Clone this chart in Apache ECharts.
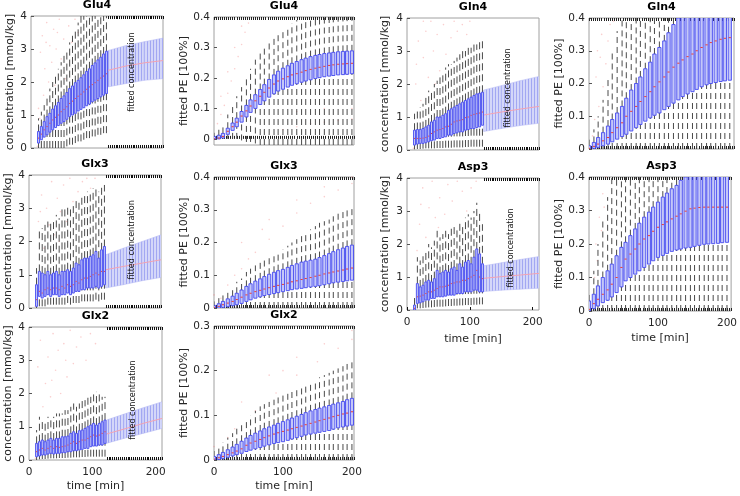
<!DOCTYPE html>
<html><head><meta charset="utf-8">
<script src="https://cdn.jsdelivr.net/npm/echarts@6/dist/echarts.min.js"></script>
<style>html,body{margin:0;padding:0;background:#fff}#c{width:740px;height:496px}</style>
</head><body><div id="c"></div>
<script>
// ---------- time points ----------
const concT = [12,16.5,21,25.5,30,34.5,39,43.5,48,52.5,57,61.5,66,70.5,75,79.5,84,88.5,93,97.5,102,106.5,111,115.5,120];
const peT = [0,7,13,20,27,33,40,47,53,60,67,73,80,87,93,100,107,113,120,127,133,140,147,153,160,167,173,180,187,193,200];
const fitT = [122,150,180,210];
const fitTicks = [123,126,129,132,135,138,141,144,147,150,153,156,159,162,165,168,171,174,177,180,183,186,189,192,195,198,201,204,207,210];
const timeTicks = [0,100,200];
const concTicks = [0,1,2,3,4];
const peTicks4 = [0,0.1,0.2,0.3,0.4];
const peTicks3 = [0,0.1,0.2,0.3];

// ---------- Glu4 concentration ----------
const glu4ConcLo  = [0,0,0,0,0,0,0,0,0,0,0.05,0.1,0.1,0.15,0.2,0.2,0.25,0.3,0.3,0.35,0.35,0.4,0.4,0.45,0.45];
const glu4ConcQ1  = [0.15,0.25,0.33,0.4,0.48,0.55,0.62,0.68,0.75,0.8,0.87,0.95,1.0,1.05,1.12,1.17,1.22,1.28,1.33,1.4,1.45,1.5,1.55,1.6,1.65];
const glu4ConcMed = [0.3,0.42,0.55,0.65,0.75,0.85,0.93,1.0,1.1,1.17,1.25,1.35,1.42,1.5,1.57,1.63,1.7,1.78,1.85,1.92,1.98,2.05,2.12,2.18,2.25];
const glu4ConcQ3  = [0.5,0.65,0.8,0.95,1.05,1.18,1.28,1.38,1.5,1.58,1.68,1.8,1.88,1.98,2.05,2.13,2.22,2.32,2.4,2.5,2.58,2.67,2.75,2.85,2.93];
const glu4ConcHi  = [0.9,1.1,1.3,1.6,1.8,2.0,2.2,2.4,2.6,2.8,3.0,3.2,3.4,3.6,3.8,4.0,4.2,4.4,4.5,4.6,4.7,4.8,4.9,5.0,5.0];
const glu4FitLo  = [1.85,1.95,2.05,2.1];
const glu4FitMed = [2.35,2.48,2.58,2.65];
const glu4FitHi  = [2.95,3.1,3.22,3.33];
const glu4ConcOut = [[15,2.9],[18,3.4],[20,1.6],[22,2.4],[25,3.8],[28,2.0],[30,3.1],[33,2.6],[36,3.6],[38,1.9],[40,3.0],[45,3.9],[48,2.7],[52,3.3],[55,2.1],[60,3.7],[65,3.2],[70,3.9],[75,3.5],[12,1.2],[14,0.9],[10,0.05],[24,3.2],[42,3.5]];

// ---------- Glu4 PE ----------
const glu4PeLo  = [0,0,0,0,0,0,-0.005,-0.01,-0.01,-0.015,-0.02,-0.02,-0.02,-0.02,-0.02,-0.02,-0.02,-0.02,-0.02,-0.02,-0.02,-0.02,-0.02,-0.02,-0.02,-0.02,-0.02,-0.02,-0.02,-0.02,-0.02];
const glu4PeQ1  = [0,0,0.003,0.015,0.028,0.04,0.055,0.072,0.087,0.1,0.113,0.125,0.137,0.148,0.157,0.163,0.17,0.176,0.181,0.186,0.19,0.194,0.198,0.201,0.204,0.206,0.208,0.21,0.211,0.212,0.214];
const glu4PeMed = [0,0.003,0.008,0.025,0.04,0.055,0.075,0.092,0.108,0.125,0.14,0.153,0.167,0.18,0.19,0.197,0.204,0.21,0.214,0.219,0.224,0.228,0.232,0.235,0.238,0.241,0.243,0.245,0.246,0.247,0.248];
const glu4PeQ3  = [0.008,0.012,0.018,0.035,0.052,0.068,0.09,0.11,0.128,0.145,0.162,0.178,0.195,0.21,0.222,0.232,0.24,0.248,0.254,0.26,0.265,0.27,0.274,0.277,0.28,0.282,0.284,0.286,0.287,0.288,0.289];
const glu4PeHi  = [0.02,0.03,0.05,0.08,0.11,0.14,0.17,0.2,0.23,0.26,0.28,0.3,0.32,0.34,0.35,0.36,0.37,0.38,0.39,0.4,0.4,0.41,0.41,0.42,0.42,0.42,0.42,0.42,0.42,0.42,0.42];
const glu4PeOut = [[5,0.05],[10,0.08],[15,0.11],[20,0.15],[25,0.19],[30,0.23],[35,0.27],[40,0.31],[45,0.35],[50,0.38],[10,0.14],[20,0.22],[30,0.3],[40,0.37],[100,0.03],[120,0.04],[140,0.05],[160,0.055],[180,0.06],[200,0.065],[120,0.09],[160,0.1],[200,0.1]];

// ---------- Gln4 concentration ----------
const gln4ConcLo  = [0.02,0.03,0.03,0.04,0.05,0.05,0.05,0.05,0.06,0.06,0.06,0.07,0.07,0.07,0.08,0.08,0.08,0.08,0.09,0.09,0.1,0.1,0.1,0.1,0.1];
const gln4ConcQ1  = [0.15,0.18,0.2,0.2,0.22,0.25,0.28,0.3,0.35,0.35,0.38,0.4,0.45,0.45,0.5,0.52,0.55,0.55,0.6,0.62,0.65,0.65,0.68,0.7,0.75];
const gln4ConcMed = [0.35,0.35,0.35,0.36,0.38,0.42,0.5,0.55,0.6,0.62,0.65,0.7,0.72,0.78,0.85,0.88,0.9,0.92,0.98,1.0,1.05,1.08,1.1,1.12,1.15];
const gln4ConcQ3  = [0.6,0.62,0.62,0.65,0.7,0.75,0.85,0.9,1.0,1.0,1.05,1.1,1.2,1.25,1.3,1.35,1.4,1.45,1.5,1.55,1.6,1.65,1.7,1.72,1.75];
const gln4ConcHi  = [1.1,1.2,1.3,1.4,1.6,1.8,1.8,2.0,2.1,2.2,2.3,2.5,2.6,2.6,2.7,2.8,2.9,3.0,3.0,3.1,3.1,3.2,3.2,3.3,3.3];
const gln4FitLo  = [0.56,0.65,0.74,0.81];
const gln4FitMed = [1.06,1.15,1.24,1.32];
const gln4FitHi  = [1.82,1.95,2.1,2.23];
const gln4ConcOut = [[14,2.0],[18,3.3],[22,1.5],[26,2.8],[30,3.6],[34,2.2],[38,3.9],[42,3.0],[48,3.5],[52,2.4],[58,3.8],[62,2.9],[70,3.4],[75,3.9],[80,3.6],[88,3.8],[95,3.5],[100,3.9],[15,2.6],[10,0.05],[26,3.9],[45,2.0]];

// ---------- Gln4 PE ----------
const gln4PeLo  = [0,0,0,0,0,0,0,0,0,0,0,0,0,0,0,0,0,0,0,0,0,0,0,0,0,0,0,0,0,0,0];
const gln4PeQ1  = [0,0.002,0.005,0.01,0.015,0.022,0.03,0.038,0.045,0.055,0.065,0.075,0.085,0.095,0.103,0.11,0.12,0.13,0.14,0.15,0.16,0.168,0.175,0.182,0.19,0.196,0.2,0.203,0.206,0.208,0.21];
const gln4PeMed = [0.002,0.008,0.015,0.025,0.035,0.05,0.065,0.08,0.1,0.115,0.13,0.145,0.16,0.175,0.19,0.205,0.22,0.235,0.25,0.262,0.272,0.282,0.29,0.3,0.31,0.318,0.325,0.33,0.335,0.338,0.34];
const gln4PeQ3  = [0.01,0.02,0.035,0.05,0.07,0.09,0.11,0.13,0.155,0.18,0.2,0.22,0.245,0.265,0.29,0.31,0.33,0.355,0.38,0.4,0.42,0.43,0.44,0.45,0.46,0.46,0.47,0.47,0.47,0.47,0.47];
const gln4PeHi  = [0.03,0.06,0.1,0.15,0.22,0.3,0.36,0.42,0.46,0.5,0.5,0.5,0.5,0.5,0.5,0.5,0.5,0.5,0.5,0.5,0.5,0.5,0.5,0.5,0.5,0.5,0.5,0.5,0.5,0.5,0.5];
const gln4PeOut = [[5,0.04],[8,0.09],[12,0.3],[14,0.13],[18,0.35],[20,0.19],[24,0.26],[27,0.33],[30,0.38],[10,0.22],[16,0.28],[35,0.39]];

// ---------- Glx3 concentration ----------
const glx3ConcLo  = [0,0.05,0.05,0.05,0.1,0.1,0.1,0.1,0.1,0.1,0.1,0.15,0.1,0.15,0.15,0.15,0.2,0.2,0.2,0.2,0.2,0.25,0.2,0.25,0.25];
const glx3ConcQ1  = [0.05,0.35,0.3,0.35,0.4,0.35,0.4,0.4,0.35,0.4,0.4,0.45,0.4,0.45,0.5,0.5,0.55,0.55,0.6,0.6,0.6,0.65,0.6,0.65,0.7];
const glx3ConcMed = [0.25,0.5,0.45,0.55,0.6,0.55,0.6,0.6,0.55,0.65,0.6,0.7,0.65,0.7,0.8,0.75,0.85,0.9,0.9,0.95,1.0,1.05,1.0,1.1,1.1];
const glx3ConcQ3  = [0.7,1.1,1.05,1.0,1.1,1.0,1.05,1.1,1.0,1.1,1.1,1.15,1.1,1.2,1.35,1.3,1.45,1.5,1.5,1.55,1.6,1.7,1.5,1.75,1.85];
const glx3ConcHi  = [1.2,2.3,2.4,2.5,2.6,2.6,2.7,2.8,2.7,3.0,3.0,3.1,3.0,3.1,3.3,3.2,3.4,3.4,3.5,3.5,3.6,3.6,3.5,3.7,3.7];
const glx3FitLo  = [0.6,0.7,0.82,0.92];
const glx3FitMed = [1.15,1.25,1.35,1.45];
const glx3FitHi  = [1.6,1.8,2.0,2.2];
const glx3ConcOut = [[15,2.6],[20,3.4],[24,1.8],[28,3.0],[32,2.5],[36,3.8],[40,2.2],[45,3.3],[50,2.9],[55,3.7],[60,2.6],[65,3.9],[70,3.2],[78,3.5],[85,3.8],[92,3.9],[98,3.6],[105,3.9],[10,0.05],[18,2.9],[48,2.0]];

// ---------- Glx3 PE ----------
const glx3PeLo  = [0,0,0,0,0,0,0,0,0,0,0,0,0,0,0,0,0,0,0,0,0,0,0,0,0,0,0,0,0,0,0];
const glx3PeQ1  = [0,0,0.002,0.004,0.007,0.01,0.014,0.02,0.025,0.03,0.034,0.038,0.041,0.044,0.047,0.05,0.053,0.056,0.058,0.06,0.062,0.064,0.066,0.068,0.071,0.074,0.077,0.079,0.081,0.083,0.085];
const glx3PeMed = [0.002,0.005,0.01,0.015,0.02,0.026,0.033,0.04,0.045,0.05,0.054,0.058,0.062,0.066,0.069,0.072,0.076,0.08,0.083,0.087,0.09,0.093,0.097,0.1,0.104,0.107,0.11,0.113,0.116,0.119,0.122];
const glx3PeQ3  = [0.008,0.013,0.02,0.028,0.036,0.045,0.055,0.066,0.074,0.082,0.089,0.096,0.103,0.109,0.114,0.118,0.124,0.13,0.135,0.14,0.143,0.146,0.149,0.154,0.16,0.166,0.172,0.178,0.183,0.188,0.192];
const glx3PeHi  = [0.02,0.03,0.04,0.05,0.065,0.08,0.09,0.11,0.12,0.13,0.14,0.15,0.16,0.17,0.175,0.18,0.19,0.2,0.21,0.22,0.23,0.24,0.25,0.26,0.265,0.27,0.28,0.29,0.3,0.305,0.31];
const glx3PeOut = [[0,0.04],[20,0.07],[40,0.12],[60,0.17],[80,0.21],[100,0.25],[120,0.29],[140,0.32],[160,0.34],[180,0.36],[200,0.38],[40,0.2],[80,0.27],[120,0.33],[160,0.37],[200,0.4],[10,0.03],[30,0.1],[50,0.15],[70,0.24]];

// ---------- Asp3 concentration ----------
const asp3ConcLo  = [0,0.05,0.05,0.06,0.07,0.08,0.08,0.09,0.1,0.1,0.1,0.11,0.12,0.12,0.13,0.13,0.14,0.14,0.15,0.15,0.15,0.16,0.16,0.17,0.17];
const asp3ConcQ1  = [0,0.2,0.22,0.25,0.3,0.3,0.35,0.35,0.4,0.4,0.4,0.42,0.45,0.45,0.45,0.5,0.5,0.5,0.55,0.55,0.55,0.6,0.6,0.55,0.55];
const asp3ConcMed = [0.05,0.4,0.42,0.45,0.5,0.55,0.55,0.6,0.65,0.7,0.7,0.72,0.75,0.8,0.82,0.85,0.85,0.9,0.9,0.95,1.0,1.05,1.2,1.0,0.95];
const asp3ConcQ3  = [0.15,0.8,0.7,0.75,0.85,0.9,0.85,0.95,1.2,1.1,1.15,1.2,1.15,1.25,1.3,1.2,1.4,1.3,1.45,1.5,1.4,1.6,1.85,1.7,1.4];
const asp3ConcHi  = [0.4,1.6,1.5,1.7,1.8,2.0,1.9,2.1,2.4,2.2,2.3,2.4,2.3,2.5,2.6,2.5,2.7,2.6,2.8,2.9,2.8,3.0,3.25,3.0,2.6];
const asp3FitLo  = [0.56,0.6,0.63,0.66];
const asp3FitMed = [0.96,1.01,1.06,1.11];
const asp3FitHi  = [1.34,1.43,1.53,1.62];
const asp3ConcOut = [[16,1.8],[20,2.6],[25,3.7],[30,2.2],[35,3.1],[40,3.9],[45,2.8],[52,3.4],[60,2.9],[65,3.8],[72,3.3],[80,3.9],[88,3.6],[95,3.0],[102,3.7],[110,3.9],[22,3.2],[50,2.5]];

// ---------- Asp3 PE ----------
const asp3PeLo  = [0,0,0,0,0,0,0,0,0,0,0,0,0,0,0,0,0,0,0,0,0,0,0,0,0,0,0,0,0,0,0];
const asp3PeQ1  = [0,0.007,0.015,0.025,0.032,0.042,0.055,0.072,0.09,0.1,0.11,0.12,0.13,0.14,0.15,0.16,0.166,0.172,0.178,0.182,0.185,0.188,0.19,0.193,0.196,0.199,0.2,0.201,0.202,0.204,0.205];
const asp3PeMed = [0.005,0.022,0.035,0.05,0.063,0.08,0.1,0.13,0.155,0.17,0.185,0.2,0.215,0.225,0.238,0.25,0.258,0.266,0.275,0.283,0.29,0.298,0.305,0.307,0.309,0.31,0.31,0.31,0.31,0.31,0.31];
const asp3PeQ3  = [0.03,0.05,0.075,0.1,0.12,0.14,0.165,0.19,0.205,0.225,0.245,0.262,0.28,0.295,0.31,0.325,0.34,0.352,0.365,0.375,0.39,0.4,0.41,0.42,0.43,0.44,0.45,0.45,0.45,0.45,0.45];
const asp3PeHi  = [0.06,0.12,0.2,0.27,0.34,0.4,0.45,0.5,0.5,0.5,0.5,0.5,0.5,0.5,0.5,0.5,0.5,0.5,0.5,0.5,0.5,0.5,0.5,0.5,0.5,0.5,0.5,0.5,0.5,0.5,0.5];
const asp3PeOut = [[10,0.2],[15,0.28],[20,0.35],[25,0.4],[12,0.15],[18,0.24],[8,0.1],[22,0.31]];

// ---------- Glx2 concentration ----------
const glx2ConcLo  = [0,0.02,0.03,0.03,0.04,0.05,0.05,0.05,0.06,0.06,0.06,0.07,0.07,0.08,0.08,0.08,0.09,0.09,0.1,0.1,0.1,0.1,0.1,0.1,0.1];
const glx2ConcQ1  = [0.1,0.12,0.15,0.15,0.18,0.2,0.18,0.2,0.2,0.22,0.22,0.25,0.25,0.28,0.28,0.3,0.32,0.35,0.35,0.4,0.42,0.42,0.45,0.45,0.5];
const glx2ConcMed = [0.25,0.3,0.35,0.3,0.35,0.4,0.35,0.4,0.38,0.4,0.42,0.45,0.5,0.55,0.5,0.55,0.6,0.6,0.65,0.7,0.75,0.72,0.75,0.8,0.85];
const glx2ConcQ3  = [0.5,0.55,0.6,0.55,0.6,0.65,0.6,0.65,0.65,0.7,0.7,0.72,0.8,0.85,0.8,0.88,0.9,0.95,1.0,1.05,1.1,1.05,1.1,1.15,1.2];
const glx2ConcHi  = [0.9,1.3,1.2,1.2,1.3,1.3,1.3,1.4,1.4,1.4,1.5,1.5,1.6,1.7,1.6,1.7,1.8,1.8,1.9,1.9,2.0,2.05,2.0,1.9,1.9];
const glx2FitLo  = [0.5,0.65,0.8,0.95];
const glx2FitMed = [0.78,0.93,1.1,1.25];
const glx2FitHi  = [1.2,1.38,1.57,1.75];
const glx2ConcOut = [[14,2.8],[18,3.6],[22,1.6],[26,2.3],[30,3.1],[34,1.9],[38,3.8],[42,2.7],[46,3.3],[50,2.0],[55,3.5],[60,2.5],[65,3.9],[70,2.9],[75,3.4],[82,3.7],[90,3.0],[97,3.8],[105,3.5],[10,0.05],[36,2.4],[58,3.0]];

// ---------- Glx2 PE ----------
const glx2PeLo  = [0,0,0,0,0,0,0,0,0,0,0,0,0,0,0,0,0,0,0,0,0,0,0,0,0,0,0,0,0,0,0];
const glx2PeQ1  = [0,0.001,0.003,0.006,0.009,0.012,0.015,0.019,0.022,0.025,0.028,0.031,0.034,0.037,0.039,0.041,0.044,0.047,0.05,0.053,0.056,0.058,0.06,0.062,0.064,0.066,0.069,0.072,0.074,0.076,0.078];
const glx2PeMed = [0.002,0.005,0.008,0.012,0.016,0.02,0.025,0.033,0.038,0.042,0.046,0.05,0.054,0.058,0.061,0.064,0.067,0.07,0.073,0.076,0.079,0.082,0.085,0.088,0.091,0.094,0.097,0.1,0.103,0.105,0.108];
const glx2PeQ3  = [0.008,0.012,0.017,0.023,0.029,0.035,0.042,0.049,0.055,0.06,0.065,0.07,0.074,0.078,0.082,0.086,0.09,0.094,0.098,0.102,0.106,0.11,0.113,0.116,0.119,0.122,0.125,0.128,0.131,0.135,0.138];
const glx2PeHi  = [0.02,0.03,0.04,0.05,0.06,0.07,0.08,0.09,0.1,0.11,0.12,0.125,0.13,0.135,0.14,0.145,0.15,0.155,0.16,0.165,0.17,0.175,0.18,0.185,0.19,0.195,0.2,0.205,0.21,0.215,0.22];
const glx2PeOut = [[0,0.03],[30,0.07],[60,0.11],[90,0.15],[120,0.19],[150,0.22],[180,0.25],[200,0.27],[40,0.13],[80,0.19],[120,0.23],[160,0.26],[200,0.29],[20,0.05],[100,0.2]];

// ---------- styling ----------
const FONT = 'DejaVu Sans';
const TXT = '#262626';
const WHISK = '#4a4a4a';
const BOXFILL = '#c4c7f8';
const BOXEDGE = '#4347ef';
const MEDC = '#e8403a';

const pc = document.createElement('canvas');
pc.width = 3; pc.height = 4;
const pctx = pc.getContext('2d');
pctx.fillStyle = '#d4d7f9'; pctx.fillRect(0,0,3,4);
pctx.fillStyle = '#a2a7f2'; pctx.fillRect(0,0,1,4);
const bandFill = {image: pc, repeat: 'repeat'};

// panel layout table (layout only; values come from the arrays above)
const panels = [
  {title:'Glu4', kind:'conc', box:[31,16,132,132], xMax:210, lo:glu4ConcLo, q1:glu4ConcQ1, md:glu4ConcMed, q3:glu4ConcQ3, hi:glu4ConcHi, out:glu4ConcOut, fit:[glu4FitLo,glu4FitMed,glu4FitHi], capLo:true, capHi:true, txt:[160,2.3], xlab:false, gap:15},
  {title:'Glu4', kind:'pe', box:[214,17,140,128], xMax:203, yMin:-0.02, yMax:0.4, lo:glu4PeLo, q1:glu4PeQ1, md:glu4PeMed, q3:glu4PeQ3, hi:glu4PeHi, out:glu4PeOut, xlab:false, gap:14},
  {title:'Gln4', kind:'conc', box:[407,18,132,132], xMax:210, lo:gln4ConcLo, q1:gln4ConcQ1, md:gln4ConcMed, q3:gln4ConcQ3, hi:gln4ConcHi, out:gln4ConcOut, fit:[gln4FitLo,gln4FitMed,gln4FitHi], capLo:true, capHi:false, txt:[160,1.88], xlab:false, gap:16},
  {title:'Gln4', kind:'pe', box:[589,18,145,131], xMax:206, yMin:0, yMax:0.4, lo:gln4PeLo, q1:gln4PeQ1, md:gln4PeMed, q3:gln4PeQ3, hi:gln4PeHi, out:gln4PeOut, xlab:false, gap:12},
  {title:'Glx3', kind:'conc', box:[29,175,132,133], xMax:210, lo:glx3ConcLo, q1:glx3ConcQ1, md:glx3ConcMed, q3:glx3ConcQ3, hi:glx3ConcHi, out:glx3ConcOut, fit:[glx3FitLo,glx3FitMed,glx3FitHi], capLo:true, capHi:true, txt:[164,2.05], xlab:false, gap:15},
  {title:'Glx3', kind:'pe', box:[214,177,140,131], xMax:203, yMin:0, yMax:0.4, lo:glx3PeLo, q1:glx3PeQ1, md:glx3PeMed, q3:glx3PeQ3, hi:glx3PeHi, out:glx3PeOut, xlab:false, gap:14},
  {title:'Asp3', kind:'conc', box:[407,178,132,132], xMax:210, lo:asp3ConcLo, q1:asp3ConcQ1, md:asp3ConcMed, q3:asp3ConcQ3, hi:asp3ConcHi, out:asp3ConcOut, fit:[asp3FitLo,asp3FitMed,asp3FitHi], capLo:false, capHi:true, txt:[165,1.88], xlab:true, gap:16, xgap:24},
  {title:'Asp3', kind:'pe', box:[589,177,145,134], xMax:206, yMin:0, yMax:0.4, lo:asp3PeLo, q1:asp3PeQ1, md:asp3PeMed, q3:asp3PeQ3, hi:asp3PeHi, out:asp3PeOut, xlab:true, gap:12, xgap:22},
  {title:'Glx2', kind:'conc', box:[29,327,133,133], xMax:210, lo:glx2ConcLo, q1:glx2ConcQ1, md:glx2ConcMed, q3:glx2ConcQ3, hi:glx2ConcHi, out:glx2ConcOut, fit:[glx2FitLo,glx2FitMed,glx2FitHi], capLo:true, capHi:true, txt:[164,1.8], xlab:true, gap:15, xgap:21},
  {title:'Glx2', kind:'pe', box:[214,326,140,134], xMax:203, yMin:0, yMax:0.3, lo:glx2PeLo, q1:glx2PeQ1, md:glx2PeMed, q3:glx2PeQ3, hi:glx2PeHi, out:glx2PeOut, xlab:true, gap:14, xgap:21}
];

function boxRenderer(bw, dash) {
  return function (params, api) {
    const t = api.value(0);
    const pLo = api.coord([t, api.value(1)]);
    const pQ1 = api.coord([t, api.value(2)]);
    const pMd = api.coord([t, api.value(3)]);
    const pQ3 = api.coord([t, api.value(4)]);
    const pHi = api.coord([t, api.value(5)]);
    const w = api.size([bw, 0])[0];
    const x = pLo[0];
    const xl = x - w / 2;
    return {type: 'group', children: [
      {type: 'line', shape: {x1: x, y1: pLo[1], x2: x, y2: pQ1[1]}, style: {stroke: WHISK, lineWidth: 1, lineDash: dash}},
      {type: 'line', shape: {x1: x, y1: pQ3[1], x2: x, y2: pHi[1]}, style: {stroke: WHISK, lineWidth: 1, lineDash: dash}},
      {type: 'rect', shape: {x: xl, y: pQ3[1], width: w, height: pQ1[1] - pQ3[1]}, style: {fill: BOXFILL, stroke: BOXEDGE, lineWidth: 0.9}},
      {type: 'line', shape: {x1: xl + 0.5, y1: pMd[1], x2: xl + w - 0.5, y2: pMd[1]}, style: {stroke: MEDC, lineWidth: 1}}
    ]};
  };
}

function bandRenderer(T, LO, HI) {
  return function (params, api) {
    const i = params.dataIndex;
    if (i >= T.length - 1) return null;
    const a = api.coord([T[i], LO[i]]), b = api.coord([T[i + 1], LO[i + 1]]);
    const c = api.coord([T[i + 1], HI[i + 1]]), d = api.coord([T[i], HI[i]]);
    return {type: 'polygon', shape: {points: [a, b, c, d]}, style: {fill: bandFill, stroke: '#b4b8f4', lineWidth: 0.5}};
  };
}

const grids = [], xAxes = [], yAxes = [], graphics = [], series = [];
panels.forEach((p, gi) => {
  const [L, T, W, H] = p.box;
  grids.push({left: L, top: T, width: W, height: H, show: true, borderColor: '#a0a0a0', borderWidth: 1, backgroundColor: '#fff'});
  graphics.push({type: 'text', x: L + W / 2, y: T - 16, silent: true,
    style: {text: p.title, textAlign: 'center', textVerticalAlign: 'top', fill: '#000',
      font: 'bold 11px "DejaVu Sans"'}});
  const isConc = p.kind === 'conc';
  const bottomTickVals = isConc ? (p.capLo ? fitTicks : timeTicks) : null;
  xAxes.push({
    gridIndex: gi, type: 'value', position: 'bottom', min: 0, max: p.xMax,
    interval: isConc ? 100 : 3,
    axisLine: {show: false}, splitLine: {show: false},
    axisTick: isConc ? {show: true, inside: true, length: 3, lineStyle: {color: '#111'}, customValues: bottomTickVals}
                     : {show: true, inside: true, length: 3, lineStyle: {color: '#222'}},
    axisLabel: {show: p.xlab, customValues: timeTicks, fontFamily: FONT, fontSize: 10.5, color: TXT, margin: 7},
    name: p.xlab ? 'time [min]' : '', nameLocation: 'middle', nameGap: p.xgap || 21,
    nameTextStyle: {fontFamily: FONT, fontSize: 11, color: TXT}
  });
  xAxes.push({
    gridIndex: gi, type: 'value', position: 'top', min: 0, max: p.xMax,
    interval: isConc ? 100 : 3,
    axisLine: {show: false}, splitLine: {show: false}, axisLabel: {show: false},
    axisTick: isConc ? {show: p.capHi, inside: true, length: 3, lineStyle: {color: '#111'}, customValues: fitTicks}
                     : {show: true, inside: true, length: 3, lineStyle: {color: '#222'}}
  });
  const yTicks = isConc ? concTicks : (p.yMax === 0.3 ? peTicks3 : peTicks4);
  yAxes.push({
    gridIndex: gi, type: 'value', min: isConc ? 0 : p.yMin, max: isConc ? 4 : p.yMax,
    axisLine: {show: false}, splitLine: {show: false},
    axisTick: {show: true, inside: true, length: 3, lineStyle: {color: '#555'}, customValues: yTicks},
    axisLabel: {customValues: yTicks, fontFamily: FONT, fontSize: 10.5, color: TXT, margin: 4,
      formatter: v => String(Math.round(v * 10) / 10)},
    name: isConc ? 'concentration [mmol/kg]' : 'fitted PE [100%]', nameLocation: 'middle', nameGap: p.gap,
    nameTextStyle: {fontFamily: FONT, fontSize: 11, color: TXT}
  });
  const xi = gi * 2;
  const tArr = isConc ? concT : peT;
  const data = tArr.map((t, i) => [t, p.lo[i], p.q1[i], p.md[i], p.q3[i], p.hi[i]]);
  series.push({type: 'scatter', xAxisIndex: xi, yAxisIndex: gi, data: p.out, symbolSize: 1.6,
    itemStyle: {color: 'rgba(240,120,120,0.45)'}, silent: true, clip: true, z: 1});
  if (isConc) {
    const [fl, fm, fh] = p.fit;
    series.push({type: 'custom', xAxisIndex: xi, yAxisIndex: gi, clip: true, z: 2,
      renderItem: bandRenderer(fitT, fl, fh), data: fitT.map((t, i) => [t, fl[i], fh[i]]), encode: {x: 0, y: [1, 2]}, silent: true});
    series.push({type: 'line', xAxisIndex: xi, yAxisIndex: gi, data: fitT.map((t, i) => [t, fm[i]]), showSymbol: false, symbol: 'none',
      lineStyle: {color: '#f3a3b3', width: 1}, z: 3, silent: true,
      markPoint: {symbol: 'circle', symbolSize: 0, silent: true,
        data: [{coord: p.txt, label: {show: true, position: 'inside', formatter: 'fitted concentration', rotate: 90,
          fontFamily: FONT, fontSize: 8, color: '#111'}}]}});
  }
  series.push({type: 'custom', xAxisIndex: xi, yAxisIndex: gi, clip: true, z: 4,
    renderItem: boxRenderer(isConc ? 3.2 : 4.6, isConc ? [7, 4] : [6, 4]), data: data, encode: {x: 0, y: [1, 2, 3, 4, 5]}, silent: true});
});

const chart = echarts.init(document.getElementById('c'), null, {renderer: 'canvas'});
chart.setOption({animation: false, backgroundColor: '#fff', textStyle: {fontFamily: FONT},
  graphic: graphics, grid: grids, xAxis: xAxes, yAxis: yAxes, series: series});
</script>
</body></html>
